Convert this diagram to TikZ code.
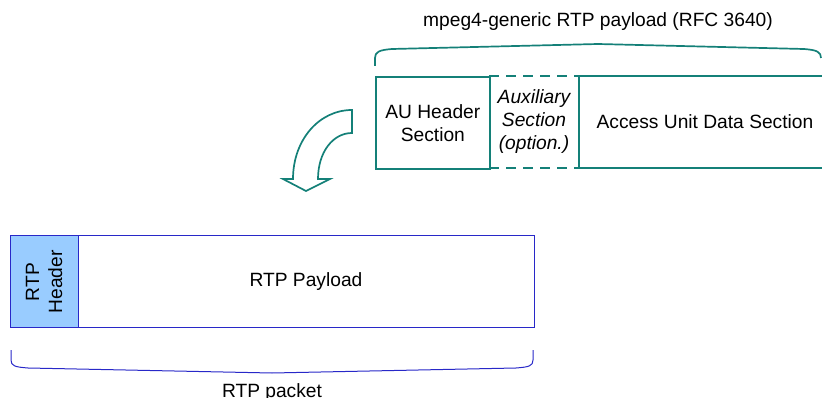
\documentclass[tikz,border=0pt]{standalone}
\usepackage{fontspec}
\setmainfont{Liberation Sans}
\begin{document}
\begin{tikzpicture}[x=1pt,y=-1pt,
  every node/.style={font=\fontsize{19.2}{23}\selectfont, inner sep=0pt},
  tealline/.style={draw=tealc, line width=1.7pt},
  blueline/.style={draw=bluec, line width=1pt},
  lbl/.style={align=center}]
\definecolor{tealc}{RGB}{20,128,120}
\definecolor{bluec}{RGB}{40,40,200}
\definecolor{hdrfill}{RGB}{153,204,255}
\useasboundingbox (0,0) rectangle (822,398);
% top title
\node[lbl] (title) at (598,22) {mpeg4-generic RTP payload (RFC 3640)};
% top brace
\draw[tealline] (375,66) -- (375,58) .. controls (375,52) and (379,50) .. (392,49) -- (598,44) -- (804,49) .. controls (817,50) and (821,52) .. (821,58);
% top boxes
\node[tealline, minimum width=114pt, minimum height=92pt, anchor=north west] (au) at (375,76) {};
\node[lbl] at (au.center) {AU Header\\Section};
\coordinate (auxNW) at (489,76);
\coordinate (auxNE) at (579,76);
\coordinate (auxSW) at (489,168);
\coordinate (auxSE) at (579,168);
\draw[tealc, line width=1.7pt, dash pattern=on 10pt off 7pt] (auxNW) -- (auxNE);
\draw[tealc, line width=1.7pt, dash pattern=on 10pt off 7pt] (auxSW) -- (auxSE);
\node[lbl, font=\fontsize{19.2}{23}\selectfont\itshape] (aux) at (534,122) {Auxiliary\\Section\\(option.)};
\draw[tealline] (830,76) -- (579,76) -- (579,168) -- (830,168);
\node[lbl] (aud) at (705,122) {Access Unit Data Section};
% curved arrow
\draw[tealline, line join=miter] (352,110) .. controls (319,110) and (293,140) .. (293,179)
  -- (283,179) -- (306,191) -- (330,179) -- (318,179)
  .. controls (318,152) and (333,133) .. (352,133) -- cycle;
% bottom boxes
\draw[blueline, fill=hdrfill] (10,236) rectangle (78,327);
\node[lbl, rotate=90] (hdr) at (44,282) {RTP\\Header};
\draw[blueline] (78,236) rectangle (534,327);
\node[lbl] (pay) at (306,282) {RTP Payload};
% bottom brace
\draw[blueline] (11,350) -- (11,360) .. controls (11,366) and (15,367) .. (28,368) -- (272,373) -- (516,368) .. controls (529,367) and (533,366) .. (533,360) -- (533,350);
\node[lbl] (pk) at (272,393) {RTP packet};
\end{tikzpicture}
\end{document}
